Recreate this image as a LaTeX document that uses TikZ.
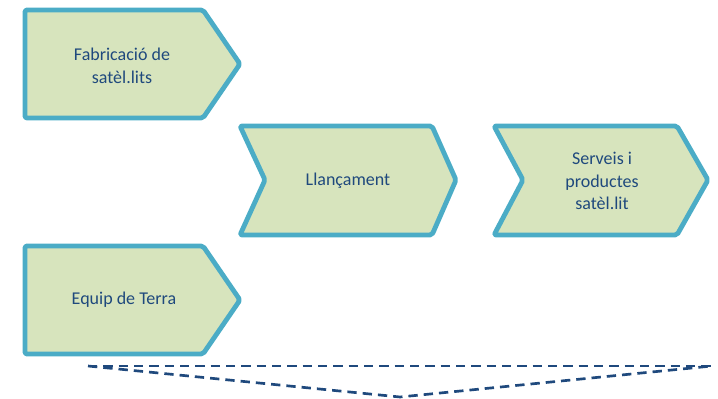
\documentclass[tikz,border=0pt]{standalone}
\usepackage{fontspec}
\setmainfont{Carlito}
\definecolor{acc}{HTML}{4BACC6}
\definecolor{fillc}{HTML}{D7E4BD}
\definecolor{txt}{HTML}{1F497D}
\definecolor{dashc}{HTML}{1F497D}
\begin{document}
\begin{tikzpicture}[x=0.75pt,y=-0.75pt]
\tikzset{
  stage/.style={draw=acc, fill=fillc, line width=3.6pt, line join=round, rounded corners=1.5pt},
  lbl/.style={text=txt, font=\fontsize{13.5}{17}\selectfont, align=center, inner sep=0pt},
  guide/.style={draw=dashc, line width=2pt, dash pattern=on 7pt off 4.5pt}
}
\useasboundingbox (0,0) rectangle (718,399);
% stages
\draw[stage] (25,10) -- (203,10) -- (240,64) -- (203,118) -- (25,118) -- cycle;
\draw[stage] (240,126) -- (432,126) -- (456,180) -- (432,235) -- (240,235) -- (265,180) -- cycle;
\draw[stage] (494,126) -- (677,126) -- (708,180) -- (677,235) -- (494,235) -- (523,180) -- cycle;
\draw[stage] (25,246) -- (203,246) -- (240,300) -- (203,354) -- (25,354) -- cycle;
% labels
\node[lbl] (fab) at (122,66) {Fabricació de\\satèl.lits};
\node[lbl] (llan) at (348,181) {Llançament};
\node[lbl] (serv) at (602,181) {Serveis i\\productes\\satèl.lit};
\node[lbl] (equip) at (124,300) {Equip de Terra};
% dashed guide
\coordinate (dl) at (88,366);
\coordinate (dr) at (712,366);
\coordinate (db) at (400,397);
\draw[guide] (dl) -- (dr);
\draw[guide] (dl) -- (db) -- (dr);
\end{tikzpicture}
\end{document}
